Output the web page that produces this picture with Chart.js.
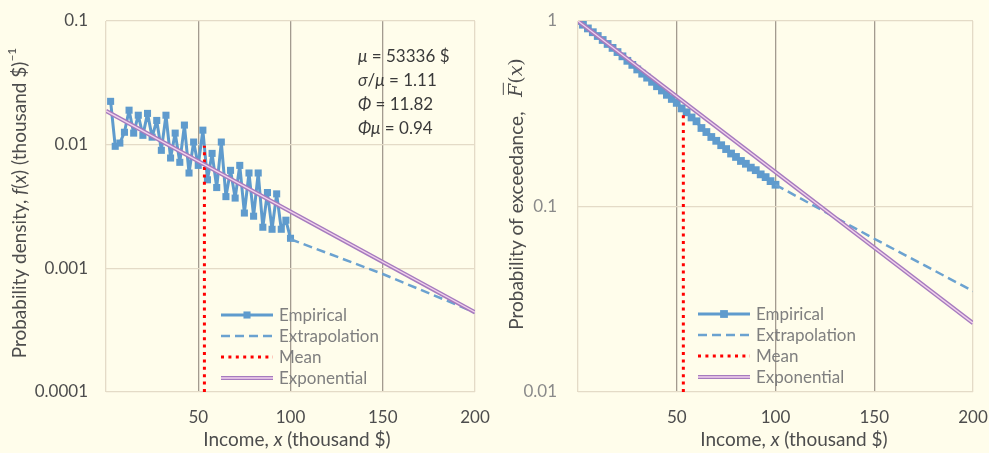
<!DOCTYPE html>
<html>
<head>
<meta charset="utf-8">
<script src="https://cdn.jsdelivr.net/npm/chart.js@4.4.1/dist/chart.umd.min.js"></script>
<style>
  html, body { margin: 0; padding: 0; background: #FFFDEB; }
  #wrap { position: relative; width: 989px; height: 453px; overflow: hidden; }
  canvas { position: absolute; top: 0; }
  #c1 { left: 0; }
  #c2 { left: 494px; }
</style>
</head>
<body>
<div id="wrap">
  <canvas id="c1" width="494" height="453"></canvas>
  <canvas id="c2" width="495" height="453"></canvas>
</div>
<script>
// income bins (thousand $)
const incomeBins = [2.5, 5, 7.5, 10, 12.5, 15, 17.5, 20, 22.5, 25, 27.5, 30, 32.5, 35, 37.5, 40,
  42.5, 45, 47.5, 50, 52.5, 55, 57.5, 60, 62.5, 65, 67.5, 70, 72.5, 75, 77.5, 80,
  82.5, 85, 87.5, 90, 92.5, 95, 97.5, 100];
const densityValues = [0.0224, 0.0097, 0.0103, 0.0126, 0.0190, 0.0124, 0.0173, 0.0119, 0.0179, 0.0115,
  0.0157, 0.0090, 0.0173, 0.0078, 0.0124, 0.0072, 0.0144, 0.0059, 0.0105, 0.0068,
  0.0131, 0.0052, 0.0085, 0.0045, 0.0105, 0.0038, 0.0062, 0.0037, 0.0068, 0.0028,
  0.0059, 0.00264, 0.0059, 0.00215, 0.0041, 0.00207, 0.0040, 0.00207, 0.00245, 0.00175];

const exceedX = [0, 2.5, 5, 7.5, 10, 12.5, 15, 17.5, 20, 22.5, 25, 27.5, 30, 32.5, 35, 37.5, 40,
  42.5, 45, 47.5, 50, 52.5, 55, 57.5, 60, 62.5, 65, 67.5, 70, 72.5, 75, 77.5, 80,
  82.5, 85, 87.5, 90, 92.5, 95, 97.5, 100];
const exceedValues = [1.0, 0.955, 0.912, 0.87, 0.83, 0.79, 0.752, 0.716, 0.68, 0.645, 0.61, 0.58, 0.548,
  0.52, 0.495, 0.47, 0.445, 0.422, 0.40, 0.38, 0.362, 0.338, 0.322, 0.302, 0.288, 0.265,
  0.252, 0.237, 0.226, 0.214, 0.204, 0.193, 0.185, 0.176, 0.170, 0.162, 0.157, 0.149,
  0.144, 0.137, 0.131];

const extrapX = [100, 150, 200];
const densityExtrap = [0.00172, 0.00090, 0.00044];
const exceedExtrap = [0.131, 0.067, 0.035];

const expX = [0, 200];
const densityExp = [0.01875, 0.000441];
const exceedExp = [1, 0.0235];

const meanX = [53.336, 53.336];
const densityMean = [0.0001, 0.0098];
const exceedMean = [0.01, 0.32];

const xTicks = [0, 50, 100, 150, 200];
const densityTicks = [0.0001, 0.001, 0.01, 0.1];
const exceedTicks = [0.01, 0.1, 1];

const statsLines = [
  [{ t: 'μ', i: 1 }, { t: ' = 53336 $' }],
  [{ t: 'σ', i: 1 }, { t: '/' }, { t: 'μ', i: 1 }, { t: ' = 1.11' }],
  [{ t: 'Φ', i: 1 }, { t: ' = 11.82' }],
  [{ t: 'Φμ', i: 1 }, { t: ' = 0.94' }],
];

const FONT = 'Lato, "Open Sans", sans-serif';
const TEXT = '#4D4D4D';
const BLUE = '#5F9BCD';
const GRID_LIGHT = '#E4DBC7';
const GRID_DARK = '#A39B8F';

const zip = (xs, ys) => xs.map((x, i) => ({ x, y: ys[i] }));

function fontOf(p, size) {
  const s = p.s || size;
  const fam = p.serif ? '"DejaVu Serif", "Liberation Serif", serif' : FONT;
  return (p.i ? 'italic ' : '') + s + 'px ' + fam;
}

function richText(ctx, parts, x, y, rot, align, size, color) {
  ctx.save();
  ctx.translate(x, y);
  if (rot) ctx.rotate(rot);
  ctx.textBaseline = 'middle';
  ctx.textAlign = 'left';
  let total = 0;
  parts.forEach(p => { ctx.font = fontOf(p, size); p.w = ctx.measureText(p.t).width; total += p.w; });
  let cx = align === 'left' ? 0 : -total / 2;
  parts.forEach(p => {
    ctx.font = fontOf(p, size);
    ctx.fillStyle = color;
    ctx.fillText(p.t, cx, p.dy || 0);
    if (p.bar) {
      ctx.strokeStyle = color;
      ctx.lineWidth = 1;
      ctx.beginPath();
      ctx.moveTo(cx + 2, -size * 0.72);
      ctx.lineTo(cx + p.w + 1, -size * 0.72);
      ctx.stroke();
    }
    cx += p.w;
  });
  ctx.restore();
}

const panelText = {
  id: 'panelText',
  afterDatasetsDraw(chart) {
    const o = chart.options.plugins.panelText;
    const ctx = chart.ctx;
    // legend inside the plot
    const entries = chart.data.datasets.filter(d => !d.noLegend);
    entries.forEach((ds, k) => {
      const y = o.legend.y + k * o.legend.dy;
      ctx.save();
      ctx.strokeStyle = ds.borderColor;
      ctx.lineWidth = ds.borderWidth;
      ctx.setLineDash(ds.borderDash || []);
      ctx.beginPath();
      ctx.moveTo(o.legend.x0, y);
      ctx.lineTo(o.legend.x1, y);
      ctx.stroke();
      ctx.setLineDash([]);
      if (ds.inner) {
        const inner = chart.data.datasets.find(d => d.label === ds.inner);
        ctx.strokeStyle = inner.borderColor;
        ctx.lineWidth = inner.borderWidth;
        ctx.beginPath();
        ctx.moveTo(o.legend.x0, y);
        ctx.lineTo(o.legend.x1, y);
        ctx.stroke();
      }
      if (ds.pointRadius > 0) {
        const s = ds.pointRadius * Math.SQRT1_2;
        ctx.fillStyle = ds.pointBackgroundColor;
        ctx.fillRect((o.legend.x0 + o.legend.x1) / 2 - s, y - s, 2 * s, 2 * s);
      }
      ctx.fillStyle = '#7F7F7F';
      ctx.font = '17px ' + FONT;
      ctx.textBaseline = 'middle';
      ctx.textAlign = 'left';
      ctx.fillText(ds.label, o.legend.x1 + 6, y + 1);
      ctx.restore();
    });
  },
  afterDraw(chart) {
    const o = chart.options.plugins.panelText;
    const ctx = chart.ctx;
    richText(ctx, o.yTitle.parts, o.yTitle.x, o.yTitle.y, -Math.PI / 2, 'center', 19, TEXT);
    richText(ctx, o.xTitle.parts, o.xTitle.x, o.xTitle.y, 0, 'center', 19, TEXT);
    (o.notes || []).forEach((line, k) => {
      richText(ctx, line, o.notesX, o.notesY + k * o.notesDy, 0, 'left', 17, '#3A3A3A');
    });
  }
};

function makePanel(canvas, cfg) {
  const W = canvas.width, H = canvas.height;
  const area = cfg.area;
  return new Chart(canvas, {
    type: 'line',
    data: {
      datasets: [
        {
          label: 'Empirical', data: cfg.empirical, borderColor: BLUE, borderWidth: 3,
          borderJoinStyle: 'round', borderCapStyle: 'round',
          pointStyle: 'rect', pointRadius: cfg.markerR, pointBackgroundColor: BLUE, pointBorderWidth: 0,
          order: 4
        },
        {
          label: 'Extrapolation', data: cfg.extrap, borderColor: '#6BA2D0', borderWidth: 2.5,
          borderDash: [9, 5], pointRadius: 0, order: 3
        },
        {
          label: 'Mean', data: cfg.mean, borderColor: '#FF0000', borderWidth: 3,
          borderDash: [3, 4.4], pointRadius: 0, order: 2
        },
        {
          label: 'Exponential', data: cfg.exp, borderColor: '#A67BBE', borderWidth: 4.2,
          pointRadius: 0, order: 1, inner: 'Exponential core'
        },
        {
          label: 'Exponential core', data: cfg.exp, borderColor: '#F2D2EC', borderWidth: 1.3,
          pointRadius: 0, order: 0, noLegend: true
        }
      ]
    },
    options: {
      responsive: false,
      animation: false,
      events: [],
      layout: { padding: { top: area.top, right: W - area.right, left: 0, bottom: 0 } },
      plugins: {
        legend: { display: false },
        tooltip: { enabled: false },
        panelText: cfg.text
      },
      scales: {
        x: {
          type: 'linear', min: 0, max: 200,
          afterBuildTicks: s => { s.ticks = xTicks.map(v => ({ value: v })); },
          afterFit: s => {
            s.height = H - area.bottom;
            s.paddingLeft = 0; s.paddingRight = 0;
          },
          ticks: {
            padding: 15, color: TEXT, font: { family: FONT, size: 17 },
            maxRotation: 0, callback: v => (v === 0 ? '' : String(v))
          },
          grid: {
            drawTicks: false, lineWidth: 1.3,
            color: c => ([50, 100, 150].includes(c.tick.value) ? GRID_DARK : GRID_LIGHT)
          },
          border: { display: false }
        },
        y: {
          type: 'logarithmic', min: cfg.yTicks[0], max: cfg.yTicks[cfg.yTicks.length - 1],
          afterBuildTicks: s => { s.ticks = cfg.yTicks.map(v => ({ value: v })); },
          afterFit: s => {
            s.width = area.left;
            s.paddingTop = 0; s.paddingBottom = 0;
          },
          ticks: {
            padding: cfg.yPad, color: cfg.yTickColor, font: { family: FONT, size: 17 },
            callback: v => String(v)
          },
          grid: { drawTicks: false, color: GRID_LIGHT, lineWidth: 1.3 },
          border: { display: false }
        }
      }
    },
    plugins: [panelText]
  });
}

makePanel(document.getElementById('c1'), {
  area: { left: 106, right: 475, top: 21, bottom: 392 },
  yTicks: densityTicks, yPad: 18, yTickColor: '#4D4D4D', markerR: 5,
  empirical: zip(incomeBins, densityValues),
  extrap: zip(extrapX, densityExtrap),
  mean: zip(meanX, densityMean),
  exp: zip(expX, densityExp),
  text: {
    legend: { x0: 221, x1: 273, y: 315, dy: 21 },
    yTitle: {
      x: 20, y: 203, parts: [
        { t: 'Probability density, ' }, { t: 'f', i: 1 }, { t: '(' }, { t: 'x', i: 1 },
        { t: ') (thousand $)' }, { t: '−1', s: 12, dy: -8 }
      ]
    },
    xTitle: { x: 297, y: 440, parts: [{ t: 'Income, ' }, { t: 'x', i: 1 }, { t: ' (thousand $)' }] },
    notes: statsLines, notesX: 358, notesY: 57, notesDy: 23.8
  }
});

makePanel(document.getElementById('c2'), {
  area: { left: 84, right: 479, top: 21, bottom: 392 },
  yTicks: exceedTicks, yPad: 21, yTickColor: '#8A8A8A', markerR: 5.5,
  empirical: zip(exceedX, exceedValues),
  extrap: zip(extrapX, exceedExtrap),
  mean: zip(meanX, exceedMean),
  exp: zip(expX, exceedExp),
  text: {
    legend: { x0: 204, x1: 256, y: 314, dy: 21 },
    yTitle: {
      x: 23, y: 194, parts: [
        { t: 'Probability of exceedance,   ' }, { t: 'F', i: 1, serif: 1, bar: 1 },
        { t: '(', serif: 1 }, { t: 'x', i: 1, serif: 1 }, { t: ')', serif: 1 }
      ]
    },
    xTitle: { x: 300, y: 440, parts: [{ t: 'Income, ' }, { t: 'x', i: 1 }, { t: ' (thousand $)' }] },
    notes: []
  }
});
</script>
</body>
</html>
